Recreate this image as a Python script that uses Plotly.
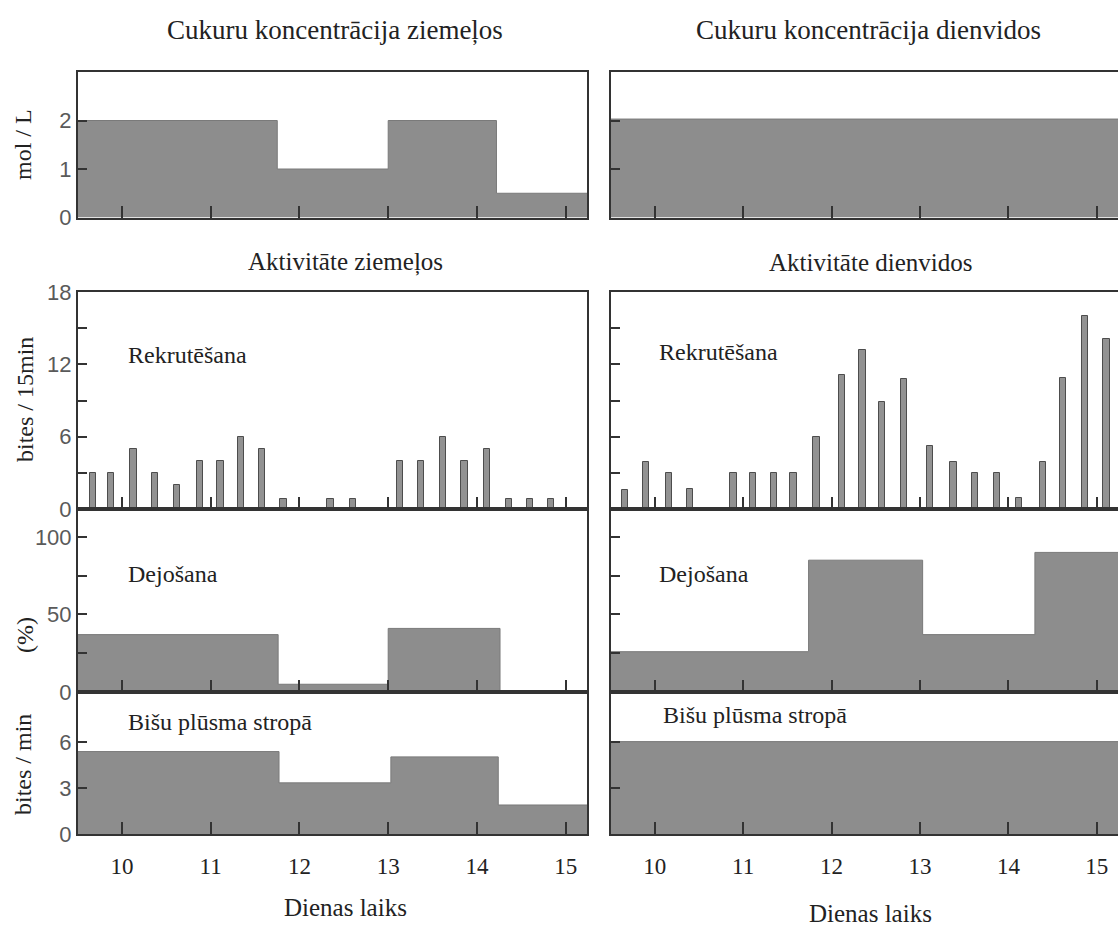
import plotly.graph_objects as go

W, H = 1118, 930

# ---------------- data ----------------
hours = [10, 11, 12, 13, 14, 15]
hour_labels = ["10", "11", "12", "13", "14", "15"]

sugar_n_t = [9.5, 11.75, 13.0, 14.22, 15.25]
sugar_n = [2, 1, 2, 0.5, 0.5]
sugar_s_t = [9.5, 15.25]
sugar_s = [2.03, 2.03]

rec_n_t = [9.67, 9.88, 10.13, 10.37, 10.62, 10.88, 11.11, 11.34, 11.58, 11.82,
           12.35, 12.60, 13.13, 13.37, 13.62, 13.86, 14.11, 14.36, 14.60, 14.83]
rec_n = [3, 3, 5, 3, 2, 4, 4, 6, 5, 0.8,
         0.8, 0.8, 4, 4, 6, 4, 5, 0.8, 0.8, 0.8]
rec_s_t = [9.66, 9.90, 10.16, 10.40, 10.89, 11.11, 11.35, 11.57, 11.83, 12.12, 12.35,
           12.57, 12.82, 13.11, 13.38, 13.62, 13.87, 14.12, 14.39, 14.62, 14.87, 15.11]
rec_s = [1.6, 3.9, 3.0, 1.7, 3.0, 3.0, 3.0, 3.0, 6.0, 11.1, 13.2,
         8.9, 10.8, 5.2, 3.9, 3.0, 3.0, 0.9, 3.9, 10.9, 16.0, 14.1]

dance_n_t = [9.5, 11.76, 13.0, 14.26, 15.25]
dance_n = [37, 5, 41, 0, 0]
dance_s_t = [9.5, 11.74, 13.03, 14.30, 15.25]
dance_s = [26, 85, 37, 90, 90]

flow_n_t = [9.5, 11.77, 13.03, 14.24, 15.25]
flow_n = [5.4, 3.35, 5.05, 1.9, 1.9]
flow_s_t = [9.5, 15.25]
flow_s = [6.05, 6.05]

# ---------------- styling ----------------
SERIF = "Liberation Serif"
SANS = "Liberation Sans"
FILL = "#8d8d8d"
EDGE = "#333333"
TXT = "#222222"

def px_x(x):
    return x / W

def px_y(y):
    return 1 - y / H

X_LEFT = [px_x(78), px_x(587)]
X_RIGHT = [px_x(611), 1.0]
ROWS = {
    "top": [px_y(217.5), px_y(72)],
    "rec": [px_y(509), px_y(292)],
    "dance": [px_y(692), px_y(509)],
    "flow": [px_y(834), px_y(692)],
}

fig = go.Figure()

def step_area(t, v, idx):
    fig.add_trace(go.Scatter(
        x=t, y=v, mode="lines", line=dict(shape="hv", color="#7a7a7a", width=1),
        fill="tozeroy", fillcolor=FILL, hoverinfo="skip", showlegend=False,
        xaxis=f"x{idx}", yaxis=f"y{idx}"))

def bars(t, v, idx):
    fig.add_trace(go.Bar(
        x=t, y=v, width=0.07, marker=dict(color="#929292", line=dict(color="#4d4d4d", width=1)),
        hoverinfo="skip", showlegend=False, xaxis=f"x{idx}", yaxis=f"y{idx}"))

step_area(sugar_n_t, sugar_n, 1)
step_area(sugar_s_t, sugar_s, 2)
bars(rec_n_t, rec_n, 3)
bars(rec_s_t, rec_s, 4)
step_area(dance_n_t, dance_n, 5)
step_area(dance_s_t, dance_s, 6)
step_area(flow_n_t, flow_n, 7)
step_area(flow_s_t, flow_s, 8)

panels = [
    (1, X_LEFT, "top", True, False),
    (2, X_RIGHT, "top", False, False),
    (3, X_LEFT, "rec", True, False),
    (4, X_RIGHT, "rec", False, False),
    (5, X_LEFT, "dance", True, False),
    (6, X_RIGHT, "dance", False, False),
    (7, X_LEFT, "flow", True, True),
    (8, X_RIGHT, "flow", False, True),
]

yspec = {
    "top": dict(range=[0, 3], tickvals=[0, 1, 2], ticktext=["0", "1", "2"]),
    "rec": dict(range=[0, 18], tickvals=[0, 3, 6, 9, 12, 15, 18],
                ticktext=["0", "", "6", "", "12", "", "18"]),
    "dance": dict(range=[0, 118], tickvals=[0, 25, 50, 75, 100],
                  ticktext=["0", "", "50", "", "100"]),
    "flow": dict(range=[0, 9.3], tickvals=[0, 3, 6], ticktext=["0", "3", "6"]),
}

layout = {}
for idx, xd, row, is_left, xlabels in panels:
    key = "" if idx == 1 else str(idx)
    layout[f"xaxis{key}"] = dict(
        domain=xd, anchor=f"y{idx}", range=[9.505, 15.24],
        tickmode="array", tickvals=hours, ticktext=hour_labels,
        ticks="inside", ticklen=12, tickwidth=2, tickcolor=EDGE,
        showline=True, linecolor=EDGE, linewidth=2, mirror=True,
        showgrid=False, zeroline=False, showticklabels=xlabels, automargin=False,
        tickfont=dict(family=SERIF, size=23, color=TXT), ticklabelstandoff=10,
    )
    ys = yspec[row]
    layout[f"yaxis{key}"] = dict(
        domain=ROWS[row], anchor=f"x{idx}", range=ys["range"],
        tickmode="array", tickvals=ys["tickvals"], ticktext=ys["ticktext"],
        ticks="inside", ticklen=9, tickwidth=2, tickcolor=EDGE,
        showline=True, linecolor=EDGE, linewidth=2, mirror=is_left,
        showgrid=False, zeroline=False, showticklabels=is_left, automargin=False,
        tickfont=dict(family=SANS, size=22, color="#5a5a5a"),
    )

annotations = []

def text(s, x, y, size=25, angle=0, xanchor="center"):
    annotations.append(dict(
        text=s, x=px_x(x), y=px_y(y), xref="paper", yref="paper",
        showarrow=False, xanchor=xanchor, yanchor="middle", textangle=angle,
        font=dict(family=SERIF, size=size, color=TXT)))

text("Cukuru koncentrācija ziemeļos", 335, 30, 27)
text("Cukuru koncentrācija dienvidos", 868, 30, 27)
text("Aktivitāte ziemeļos", 345, 262, 25)
text("Aktivitāte dienvidos", 870, 262, 25)

text("mol / L", 23, 145, 24, -90)
text("bites / 15min", 25, 400, 24, -90)
text("(%)", 25, 635, 24, -90)
text("bites / min", 23, 765, 24, -90)

text("Rekrutēšana", 126, 355, 24, 0, "left")
text("Rekrutēšana", 657, 352, 24, 0, "left")
text("Dejošana", 126, 574, 24, 0, "left")
text("Dejošana", 657, 574, 24, 0, "left")
text("Bišu plūsma stropā", 126, 722, 24, 0, "left")
text("Bišu plūsma stropā", 661, 715, 24, 0, "left")

text("Dienas laiks", 346, 907, 25)
text("Dienas laiks", 870, 913, 25)

fig.update_layout(
    width=W, height=H, margin=dict(l=0, r=0, t=0, b=0, pad=0, autoexpand=False),
    paper_bgcolor="white", plot_bgcolor="white",
    showlegend=False, bargap=0, annotations=annotations,
    **layout,
)

fig.write_html("out.html")
